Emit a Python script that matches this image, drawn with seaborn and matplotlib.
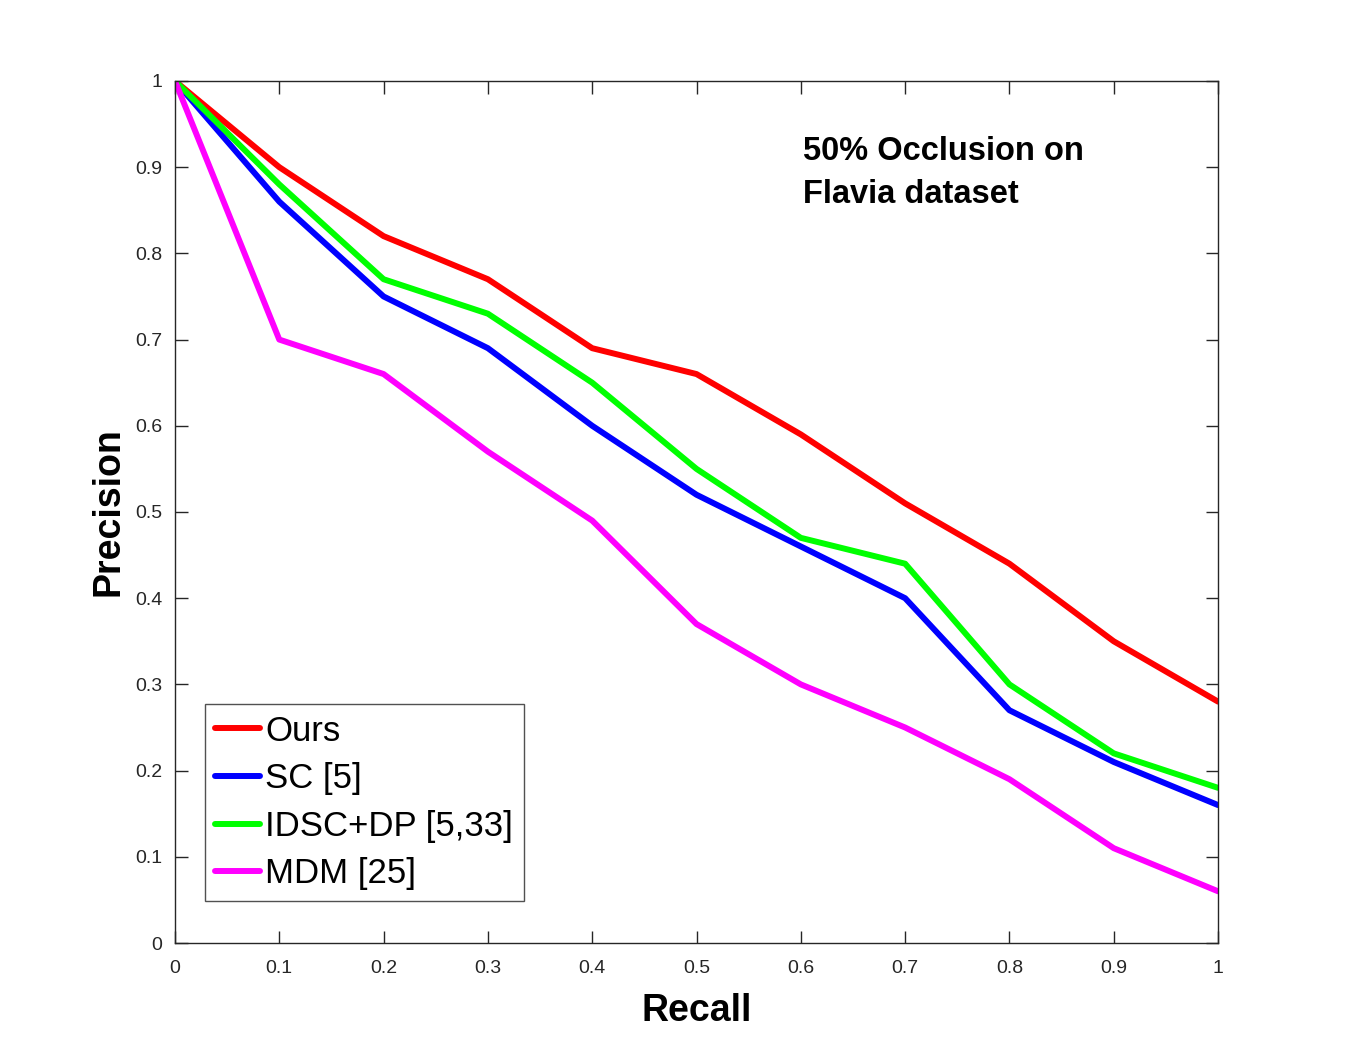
import pandas as pd
import seaborn as sns
import matplotlib
matplotlib.use("Agg")
import matplotlib.pyplot as plt

recall = [0, 0.1, 0.2, 0.3, 0.4, 0.5, 0.6, 0.7, 0.8, 0.9, 1.0]
ours = [1.0, 0.90, 0.82, 0.77, 0.69, 0.66, 0.59, 0.51, 0.44, 0.35, 0.28]
sc = [1.0, 0.86, 0.75, 0.69, 0.60, 0.52, 0.46, 0.40, 0.27, 0.21, 0.16]
idsc = [1.0, 0.88, 0.77, 0.73, 0.65, 0.55, 0.47, 0.44, 0.30, 0.22, 0.18]
mdm = [1.0, 0.70, 0.66, 0.57, 0.49, 0.37, 0.30, 0.25, 0.19, 0.11, 0.06]

methods = ["Ours", "SC [5]", "IDSC+DP [5,33]", "MDM [25]"]
colors = ["#ff0000", "#0000ff", "#00ff00", "#ff00ff"]

frames = []
for name, vals in zip(methods, [ours, sc, idsc, mdm]):
    frames.append(pd.DataFrame({"Recall": recall, "Precision": vals, "Method": name}))
df = pd.concat(frames)

sns.set_style("white")
plt.rcParams["font.family"] = ["Liberation Sans", "DejaVu Sans"]
plt.rcParams["text.color"] = "black"

fig = plt.figure(figsize=(13.48, 10.61), dpi=100)
ax = fig.add_axes([0.1298, 0.1112, 0.7738, 0.8125])

sns.lineplot(data=df, x="Recall", y="Precision", hue="Method",
             palette=dict(zip(methods, colors)), linewidth=4.3, ax=ax,
             sort=False)

ax.set_xlim(0, 1)
ax.set_ylim(0, 1)
ax.set_xticks([i / 10 for i in range(11)])
ax.set_yticks([i / 10 for i in range(11)])
ax.set_xticklabels(["0", "0.1", "0.2", "0.3", "0.4", "0.5", "0.6", "0.7", "0.8", "0.9", "1"])
ax.set_yticklabels(["0", "0.1", "0.2", "0.3", "0.4", "0.5", "0.6", "0.7", "0.8", "0.9", "1"])
ax.tick_params(direction="in", length=9, width=1, labelsize=14, colors="#262626",
               labelcolor="#262626", top=True, right=True, bottom=True, left=True)
ax.tick_params(axis="x", pad=12)
ax.tick_params(axis="y", pad=9)
for s in ax.spines.values():
    s.set_color("#262626")
    s.set_linewidth(1)
    s.set_visible(True)

ax.set_xlabel("Recall", fontsize=27, fontweight="bold", labelpad=12, color="black")
ax.set_ylabel("Precision", fontsize=27, fontweight="bold", labelpad=6, color="black")

ax.text(0.602, 0.936, "50% Occlusion on\nFlavia dataset", transform=ax.transAxes,
        fontsize=23.5, fontweight="bold", va="top", ha="left", linespacing=1.5,
        color="black")

leg = ax.legend(loc="lower left", bbox_to_anchor=(0.0285, 0.049), fontsize=25,
                frameon=True, fancybox=False, handlelength=1.3, handletextpad=0.15,
                borderpad=0.3, labelspacing=0.42, borderaxespad=0)
leg.get_frame().set_edgecolor("#262626")
leg.get_frame().set_linewidth(1)
for text in leg.get_texts():
    text.set_color("black")
for line in leg.get_lines():
    line.set_linewidth(4.3)

fig.savefig("out.png", dpi=100)
